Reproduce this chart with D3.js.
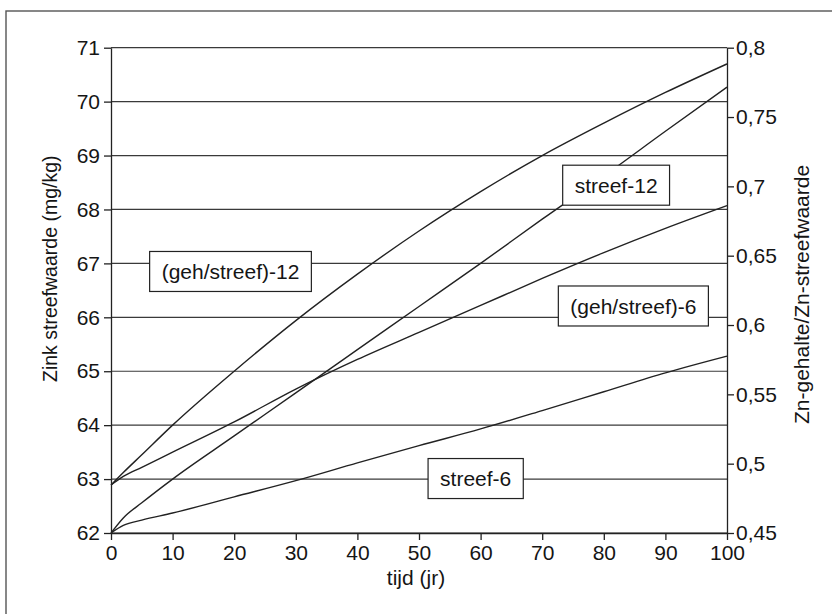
<!DOCTYPE html>
<html>
<head>
<meta charset="utf-8">
<script src="https://cdn.jsdelivr.net/npm/d3@7"></script>
<style>
  body { margin: 0; background: #fff; }
  svg { display: block; font-family: "Liberation Sans", Arial, sans-serif; }
</style>
</head>
<body>
<script>
// data
const years = [0, 2, 5, 10, 20, 30, 40, 50, 60, 70, 80, 90, 100];
// left axis: Zink streefwaarde (mg/kg)
const streef12 = [62.0, 62.28, 62.56, 63.0, 63.8, 64.6, 65.4, 66.2, 67.0, 67.82, 68.62, 69.45, 70.27];
const streef6 = [62.0, 62.14, 62.24, 62.37, 62.67, 62.97, 63.3, 63.62, 63.93, 64.27, 64.62, 64.97, 65.28];
// right axis: Zn-gehalte/Zn-streefwaarde
const gehStreef12 = [0.4846, 0.4936, 0.5064, 0.5278, 0.5667, 0.6032, 0.6367, 0.6678, 0.6962, 0.7222, 0.7456, 0.7677, 0.7883];
const gehStreef6 = [0.4846, 0.4908, 0.4974, 0.5083, 0.5301, 0.5538, 0.5752, 0.5947, 0.6141, 0.6336, 0.6522, 0.6697, 0.6861];

const xTicks = [0, 10, 20, 30, 40, 50, 60, 70, 80, 90, 100];
const leftTicks = [62, 63, 64, 65, 66, 67, 68, 69, 70, 71];
const rightTicks = [0.45, 0.5, 0.55, 0.6, 0.65, 0.7, 0.75, 0.8];

// label boxes, anchored in data units (year, left-axis value)
const labels = [
  { text: '(geh/streef)-12', t: 19.4, v: 66.85 },
  { text: 'streef-12', t: 82.0, v: 68.45 },
  { text: '(geh/streef)-6', t: 84.8, v: 66.21 },
  { text: 'streef-6', t: 59.2, v: 63.01 }
];

const width = 832;
const height = 614;
const plot = { left: 111, right: 727, top: 47.7, bottom: 533 };
const ink = '#222';

const x = d3.scaleLinear().domain([0, 100]).range([plot.left, plot.right]);
const yLeft = d3.scaleLinear().domain([62, 71]).range([plot.bottom, plot.top]);
const yRight = d3.scaleLinear().domain([0.45, 0.8]).range([plot.bottom, plot.top]);

const svg = d3.select('body').append('svg')
  .attr('width', width)
  .attr('height', height);

// scanned page frame (cut off at right and bottom)
svg.append('rect')
  .attr('x', 6).attr('y', 11)
  .attr('width', width + 20).attr('height', height + 20)
  .attr('fill', 'none')
  .attr('stroke', '#555')
  .attr('stroke-width', 1.4);

// horizontal gridlines
svg.append('g')
  .selectAll('line')
  .data(leftTicks)
  .join('line')
  .attr('x1', plot.left).attr('x2', plot.right)
  .attr('y1', (d) => yLeft(d)).attr('y2', (d) => yLeft(d))
  .attr('stroke', '#3a3a3a')
  .attr('stroke-width', 1.2);

// axes
const fmt = (d) => String(d).replace('.', ',');
const gx = svg.append('g')
  .attr('transform', `translate(0, ${plot.bottom})`)
  .call(d3.axisBottom(x).tickValues(xTicks).tickSize(7).tickSizeOuter(0).tickPadding(5));
const gl = svg.append('g')
  .attr('transform', `translate(${plot.left}, 0)`)
  .call(d3.axisLeft(yLeft).tickValues(leftTicks).tickSize(7).tickSizeOuter(0).tickPadding(4));
const gr = svg.append('g')
  .attr('transform', `translate(${plot.right}, 0)`)
  .call(d3.axisRight(yRight).tickValues(rightTicks).tickFormat(fmt).tickSize(7).tickSizeOuter(0).tickPadding(2));

[gx, gl, gr].forEach((g) => {
  g.selectAll('path, line').attr('stroke', ink).attr('stroke-width', 1.3);
  g.selectAll('text')
    .attr('fill', '#151515')
    .attr('font-size', 21)
    .attr('font-family', '"Liberation Sans", Arial, sans-serif');
});

// curves
const series = [
  { values: streef12, y: yLeft },
  { values: streef6, y: yLeft },
  { values: gehStreef12, y: yRight },
  { values: gehStreef6, y: yRight }
];
series.forEach((s) => {
  const line = d3.line()
    .x((d, i) => x(years[i]))
    .y((d) => s.y(d))
    .curve(d3.curveMonotoneX);
  svg.append('path')
    .datum(s.values)
    .attr('d', line)
    .attr('fill', 'none')
    .attr('stroke', ink)
    .attr('stroke-width', 1.4);
});

// label boxes (white, covering the lines)
labels.forEach((l) => {
  const g = svg.append('g')
    .attr('transform', `translate(${x(l.t)}, ${yLeft(l.v)})`);
  const box = g.append('rect').attr('fill', '#fff').attr('stroke', ink).attr('stroke-width', 1.2);
  const txt = g.append('text')
    .attr('text-anchor', 'middle')
    .attr('dy', '0.36em')
    .attr('font-size', 21)
    .attr('fill', '#151515')
    .text(l.text);
  const w = txt.node().getComputedTextLength() + 24;
  box.attr('x', -w / 2).attr('y', -20).attr('width', w).attr('height', 40);
});

// axis titles
svg.append('text')
  .attr('transform', 'translate(57, 382) rotate(-90)')
  .attr('font-size', 19.5)
  .attr('fill', '#151515')
  .text('Zink streefwaarde (mg/kg)');

svg.append('text')
  .attr('transform', 'translate(809, 424) rotate(-90)')
  .attr('font-size', 21)
  .attr('fill', '#151515')
  .text('Zn-gehalte/Zn-streefwaarde');

svg.append('text')
  .attr('x', (plot.left + plot.right) / 2 - 3)
  .attr('y', 585)
  .attr('text-anchor', 'middle')
  .attr('font-size', 21)
  .attr('fill', '#151515')
  .text('tijd (jr)');
</script>
</body>
</html>
